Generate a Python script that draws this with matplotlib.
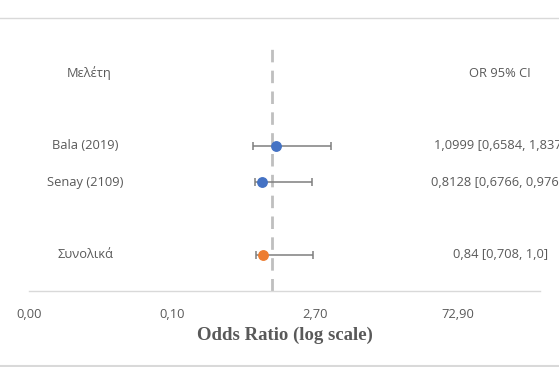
import matplotlib.pyplot as plt
import matplotlib.transforms as mtransforms
from matplotlib.lines import Line2D

studies = ['Bala (2019)', 'Senay (2109)', 'Συνολικά']
rows = [4, 3, 1]
or_pos = [1.10, 0.80, 0.82]
ci_low = [0.65, 0.68, 0.70]
ci_high = [3.9, 2.54, 2.6]
colors = ['#4472C4', '#4472C4', '#ED7D31']
ci_text = ['1,0999 [0,6584, 1,837]', '0,8128 [0,6766, 0,9764]', '0,84 [0,708, 1,0]']

tick_vals = [0.0037, 0.1, 2.7, 72.9]
tick_labels = ['0,00', '0,10', '2,70', '72,90']

grey = '#595959'
fs = 9.3
fig = plt.figure(figsize=(5.59, 3.67), dpi=100)
ax = fig.add_axes([0.052, 0.207, 0.914, 0.692])
ax.set_xscale('log')
ax.set_xlim(0.0037, 490)
ax.set_ylim(0, 7)

# reference line at OR = 1
ax.plot([1, 1], [0, 6.9], color='#BFBFBF', lw=2, dashes=(4.5, 3), zorder=1)

for i in range(len(studies)):
    x = or_pos[i]
    ax.errorbar([x], [rows[i]], xerr=[[x - ci_low[i]], [ci_high[i] - x]],
                fmt='none', ecolor='#7F7F7F', elinewidth=1.1, capsize=3, capthick=1.1, zorder=2)
    ax.plot([x], [rows[i]], 'o', color=colors[i], ms=6.8, zorder=3)

ax.set_yticks([])
for s in ['left', 'right', 'top']:
    ax.spines[s].set_visible(False)
ax.spines['bottom'].set_color('#D9D9D9')
ax.spines['bottom'].set_linewidth(1)
ax.set_xticks(tick_vals)
ax.set_xticklabels(tick_labels)
ax.minorticks_off()
ax.tick_params(axis='x', length=0, pad=12, labelsize=fs, labelcolor=grey)
for lab in ax.get_xticklabels():
    lab.set_fontfamily('Open Sans')

ax.set_xlabel('Odds Ratio (log scale)', fontfamily='Liberation Serif', fontweight='bold',
              fontsize=13.5, color=grey, labelpad=4)

trans = mtransforms.blended_transform_factory(fig.transFigure, ax.transData)
ax.text(0.159, 6, 'Μελέτη', transform=trans, ha='center', va='center',
        fontsize=fs, color=grey, family='Open Sans')
ax.text(0.895, 6, 'OR 95% CI', transform=trans, ha='center', va='center',
        fontsize=fs, color=grey, family='Open Sans')
for i in range(len(studies)):
    ax.text(0.153, rows[i], studies[i], transform=trans, ha='center', va='center',
            fontsize=fs, color=grey, family='Open Sans')
    ax.text(0.895, rows[i], ci_text[i], transform=trans, ha='center', va='center',
            fontsize=fs, color=grey, family='Open Sans')

# chart area border lines
fig.add_artist(Line2D([0, 1], [1 - 18 / 367, 1 - 18 / 367], color='#D9D9D9', lw=1))
fig.add_artist(Line2D([0, 1], [0.002, 0.002], color='#D9D9D9', lw=1.5))

fig.savefig('out.png', dpi=100)
